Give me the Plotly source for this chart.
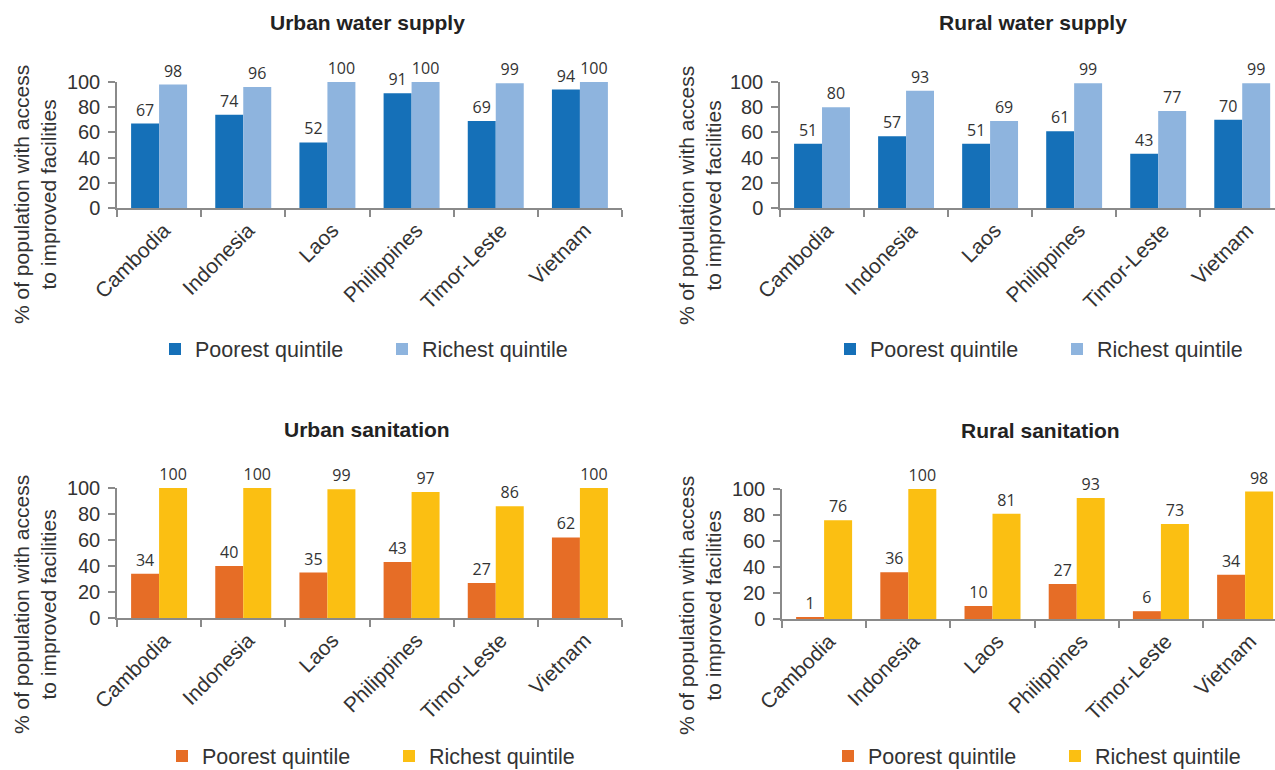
import plotly.graph_objects as go

# Access to improved facilities, poorest vs richest quintile
countries = ["Cambodia", "Indonesia", "Laos", "Philippines", "Timor-Leste", "Vietnam"]

urban_water_poorest = [67, 74, 52, 91, 69, 94]
urban_water_richest = [98, 96, 100, 100, 99, 100]
rural_water_poorest = [51, 57, 51, 61, 43, 70]
rural_water_richest = [80, 93, 69, 99, 77, 99]
urban_san_poorest = [34, 40, 35, 43, 27, 62]
urban_san_richest = [100, 100, 99, 97, 86, 100]
rural_san_poorest = [1, 36, 10, 27, 6, 34]
rural_san_richest = [76, 100, 81, 93, 73, 98]

panel_titles = ["Urban water supply", "Rural water supply", "Urban sanitation", "Rural sanitation"]
series_names = ["Poorest quintile", "Richest quintile"]
y_title = "% of population with access<br>to improved facilities"
y_ticks = [0, 20, 40, 60, 80, 100]

W, H = 1275, 770
FONT = "Liberation Sans, Arial, sans-serif"
LABEL_FONT = "Open Sans, DejaVu Sans, sans-serif"
TXT = "#333333"
AXC = "#8a8a8a"

BLUE_DARK, BLUE_LIGHT = "#1570b8", "#8eb4de"
ORANGE, YELLOW = "#e66d26", "#fbbf12"


def px_x(v):
    return v / W


def px_y(v):
    return 1 - v / H


# panel layout in pixels: plot edges, y of 100 and 0, x range end, text anchors
panels = [
    dict(data=(urban_water_poorest, urban_water_richest), colors=(BLUE_DARK, BLUE_LIGHT),
         xl=117, xr=622, yt=82, yb=208, xend=5.5,
         title=(367, 22), ytitle=(35, 195), legend=(155, 349)),
    dict(data=(rural_water_poorest, rural_water_richest), colors=(BLUE_DARK, BLUE_LIGHT),
         xl=780, xr=1275, yt=82, yb=208, xend=5.39,
         title=(1033, 22), ytitle=(700, 196), legend=(830, 349)),
    dict(data=(urban_san_poorest, urban_san_richest), colors=(ORANGE, YELLOW),
         xl=117, xr=622, yt=488, yb=618, xend=5.5,
         title=(367, 429), ytitle=(35, 605), legend=(162, 756)),
    dict(data=(rural_san_poorest, rural_san_richest), colors=(ORANGE, YELLOW),
         xl=782, xr=1275, yt=489, yb=619, xend=5.355,
         title=(1040, 430), ytitle=(700, 606), legend=(828, 756)),
]

fig = go.Figure()
layout = dict(
    width=W, height=H,
    margin=dict(l=0, r=0, t=0, b=0, autoexpand=False),
    paper_bgcolor="white", plot_bgcolor="white",
    barmode="group", bargap=0.335, bargroupgap=0,
    font=dict(family=FONT, color=TXT),
    showlegend=True,
    annotations=[],
)

for i, p in enumerate(panels):
    n = i + 1
    sfx = "" if n == 1 else str(n)
    xa, ya = "x" + sfx, "y" + sfx
    leg = "legend" + sfx
    for vals, col, name in zip(p["data"], p["colors"], series_names):
        fig.add_trace(go.Bar(
            x=countries, y=vals, name=name,
            marker=dict(color=col, line=dict(width=0)),
            text=[str(v) for v in vals], textposition="outside",
            textfont=dict(family=LABEL_FONT, size=16, color=TXT),
            textangle=0, cliponaxis=False, constraintext="none",
            xaxis=xa, yaxis=ya, legend=leg, hoverinfo="skip",
        ))

    layout["xaxis" + sfx] = dict(
        domain=[px_x(p["xl"]), px_x(p["xr"])], anchor=ya,
        range=[-0.5, p["xend"]], type="category", automargin=False,
        showline=True, linecolor=AXC, linewidth=1.5,
        ticks="outside", tickson="boundaries", ticklen=7, tickcolor=AXC, tickwidth=1.5,
        tickangle=-45, ticklabelshift=5,
        tickfont=dict(size=21, color=TXT, family=FONT),
        showgrid=False, zeroline=False, fixedrange=True,
    )
    layout["yaxis" + sfx] = dict(
        domain=[px_y(p["yb"]), px_y(p["yt"])], anchor=xa,
        range=[0, 100], tickvals=y_ticks, automargin=False,
        showline=True, linecolor=AXC, linewidth=1.5,
        ticks="outside", ticklen=7, tickcolor=AXC, tickwidth=1.5,
        ticklabelstandoff=4,
        tickfont=dict(size=20, color=TXT, family=FONT),
        showgrid=False, zeroline=False, fixedrange=True,
    )
    layout[leg] = dict(
        orientation="h", x=px_x(p["legend"][0]), y=px_y(p["legend"][1]),
        xanchor="left", yanchor="middle",
        font=dict(size=21.5, color=TXT, family=FONT),
        entrywidth=182, entrywidthmode="pixels",
        bgcolor="rgba(0,0,0,0)", borderwidth=0,
    )
    layout["annotations"].append(dict(
        text="<b>" + panel_titles[i] + "</b>", xref="paper", yref="paper",
        x=px_x(p["title"][0]), y=px_y(p["title"][1]),
        xanchor="center", yanchor="middle", showarrow=False,
        font=dict(size=21, color="#222222", family=FONT),
    ))
    layout["annotations"].append(dict(
        text=y_title, xref="paper", yref="paper",
        x=px_x(p["ytitle"][0]), y=px_y(p["ytitle"][1]),
        xanchor="center", yanchor="middle", showarrow=False, textangle=-90,
        font=dict(size=21, color=TXT, family=FONT),
    ))

fig.update_layout(**layout)
fig.write_html("out.html")
